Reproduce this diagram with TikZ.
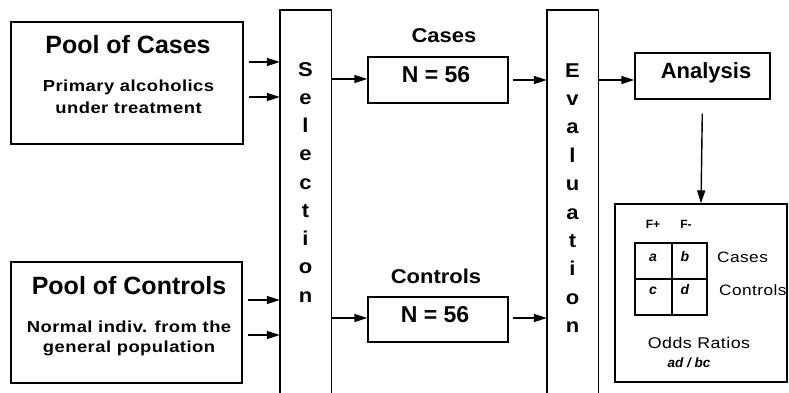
\documentclass[tikz,border=0pt]{standalone}
\usepackage{fontspec}
\setmainfont{Liberation Sans}
\newfontfamily\widefont[FakeStretch=1.15,LetterSpace=3]{Liberation Sans}
\newfontfamily\midfont[FakeStretch=1.1]{Liberation Sans}
\usetikzlibrary{arrows.meta,calc}
\tikzset{
  boxst/.style={draw, rectangle, inner sep=0pt, line width=1.4pt},
  colbox/.style={rectangle, inner sep=0pt},
  txt/.style={inner sep=0pt, anchor=base},
  colletter/.style={inner sep=0pt, anchor=base, font=\fontsize{20}{22}\midfont\bfseries},
  arr/.style={-{Triangle[length=13pt,width=8pt]}, line width=1.4pt},
}
\begin{document}
\begin{tikzpicture}[x=1pt, y=-1pt]
\useasboundingbox (0,0) rectangle (789,392);
\fill[white] (0,0) rectangle (789,392);

% boxes
\node[boxst, minimum width=232pt, minimum height=122pt] (poolC) at (127,83) {};
\node[boxst, minimum width=231pt, minimum height=121pt] (poolK) at (126.5,322.5) {};
\node[colbox, minimum width=51pt, minimum height=386pt] (sel) at (305.5,203) {};
\node[colbox, minimum width=51pt, minimum height=386pt] (eval) at (572.5,203) {};
\node[boxst, minimum width=140pt, minimum height=46pt] (casesB) at (438,80) {};
\node[boxst, minimum width=140pt, minimum height=45pt] (ctrlB) at (438,319.5) {};
\node[boxst, minimum width=135pt, minimum height=46pt] (anal) at (702.5,76) {};
\node[boxst, minimum width=172pt, minimum height=178pt] (res) at (701,293) {};

% open-bottom columns
\draw[line width=1.4pt] (sel.south west) -- (sel.north west) -- (sel.north east) -- (sel.south east);
\draw[line width=1.4pt] (eval.south west) -- (eval.north west) -- (eval.north east) -- (eval.south east);

% texts of pools
\node[txt, font=\fontsize{25}{28}\selectfont\bfseries] (tC) at (128,53) {Pool of Cases};
\node[txt, font=\fontsize{16}{18}\widefont\bfseries] (sC1) at (128.5,91) {Primary alcoholics};
\node[txt, font=\fontsize{16}{18}\widefont\bfseries] (sC2) at (128.5,113) {under treatment};
\node[txt, font=\fontsize{25}{28}\selectfont\bfseries] (tK) at (129,294) {Pool of Controls};
\node[txt, font=\fontsize{16}{18}\widefont\bfseries] (sK1) at (129,332) {Normal indiv. from the};
\node[txt, font=\fontsize{16}{18}\widefont\bfseries] (sK2) at (129,352) {general population};

% column letters
\foreach \c [count=\i] in {S,e,l,e,c,t,i,o,n}
  \node[colletter] (sl\i) at (305.5,{76+28.25*(\i-1)}) {\c};
\foreach \c [count=\i] in {E,v,a,l,u,a,t,i,o,n}
  \node[colletter] (ev\i) at (572.5,{77+28.4*(\i-1)}) {\c};

% group boxes texts
\node[txt, font=\fontsize{20}{22}\midfont\bfseries] (lC) at (444,42) {Cases};
\node[txt, font=\fontsize{23}{25}\selectfont\bfseries] (nC) at (436,82) {N = 56};
\node[txt, font=\fontsize{20}{22}\midfont\bfseries] (lK) at (436,283) {Controls};
\node[txt, font=\fontsize{23}{25}\selectfont\bfseries] (nK) at (435,322) {N = 56};
\node[txt, font=\fontsize{22}{24}\selectfont\bfseries] (tA) at (706,78) {Analysis};

% arrows
\draw[arr, shorten <=5pt] (poolC.east |- 0,62) -- (sel.west |- 0,62);
\draw[arr, shorten <=5pt] (poolC.east |- 0,97) -- (sel.west |- 0,97);
\draw[arr, shorten <=5pt] (poolK.east |- 0,300) -- (sel.west |- 0,300);
\draw[arr, shorten <=5pt] (poolK.east |- 0,335) -- (sel.west |- 0,335);
\draw[arr] (sel.east |- 0,79) -- (casesB.west |- 0,79);
\draw[arr] (sel.east |- 0,318) -- (ctrlB.west |- 0,318);
\draw[arr, shorten <=4pt] (casesB.east |- 0,80) -- (eval.west |- 0,80);
\draw[arr, shorten <=4pt] (ctrlB.east |- 0,318) -- (eval.west |- 0,318);
\draw[arr] (eval.east |- 0,80) -- (anal.west |- 0,80);
\draw[arr, shorten <=14pt] (anal.south) -- (res.north);

% 2x2 table
\draw[line width=1.1pt] (635,243) rectangle (707,315);
\draw[line width=1.1pt] (672,243) -- (672,315);
\draw[line width=1.1pt] (635,279) -- (707,279);
\node[txt, font=\fontsize{12}{13}\selectfont\bfseries] (fp) at (653,228) {F+};
\node[txt, font=\fontsize{12}{13}\selectfont\bfseries] (fm) at (686,228) {F-};
\node[txt, font=\fontsize{14}{16}\selectfont\bfseries\itshape] (ca) at (653,261) {a};
\node[txt, font=\fontsize{14}{16}\selectfont\bfseries\itshape] (cb) at (685,261) {b};
\node[txt, font=\fontsize{14}{16}\selectfont\bfseries\itshape] (cc) at (653,294) {c};
\node[txt, font=\fontsize{14}{16}\selectfont\bfseries\itshape] (cd) at (685,294) {d};
\node[txt, anchor=base west, font=\fontsize{15}{17}\widefont] (rC) at (717,262) {Cases};
\node[txt, anchor=base west, font=\fontsize{15}{17}\widefont] (rK) at (719,295) {Controls};
\node[txt, font=\fontsize{15.5}{17}\widefont] (odds) at (699,348) {Odds Ratios};
\node[txt, font=\fontsize{13.5}{15}\selectfont\bfseries\itshape] (adbc) at (689,367) {ad / bc};
\end{tikzpicture}
\end{document}
